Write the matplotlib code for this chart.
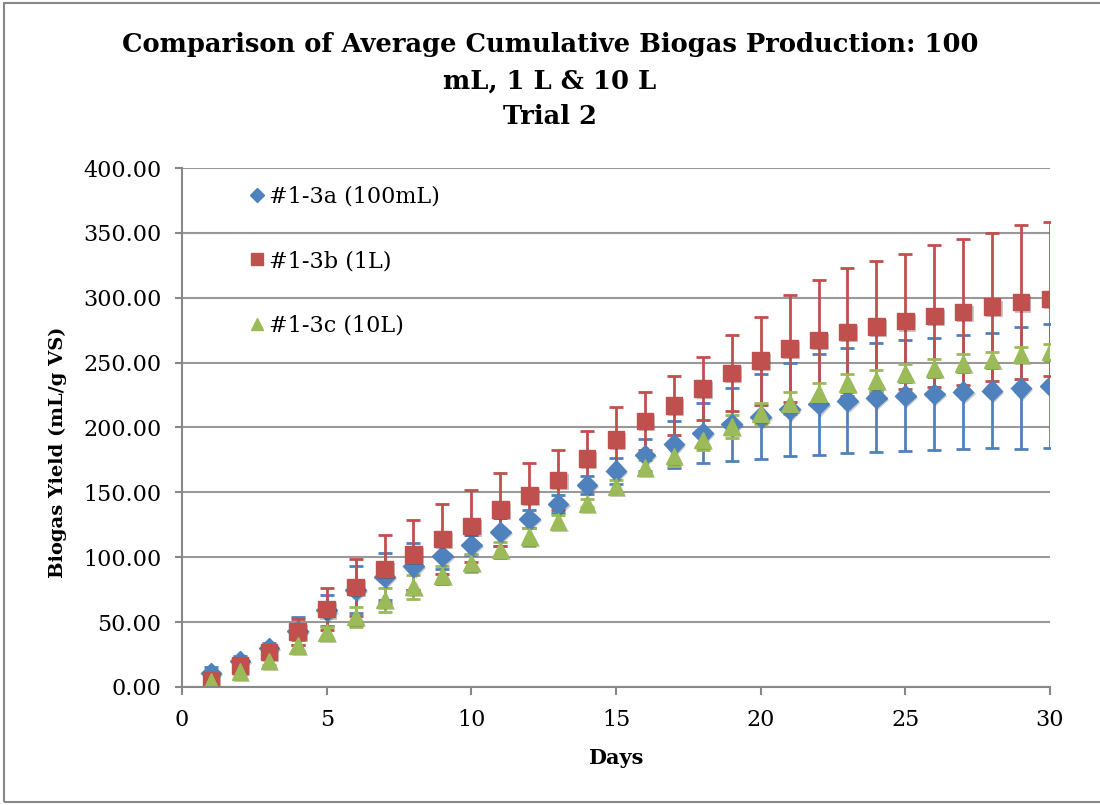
import matplotlib.pyplot as plt
import matplotlib.patheffects as pe
from matplotlib.patches import Rectangle
from matplotlib.lines import Line2D

# --- données ---
days = list(range(1, 31))

yield_a = [10.5, 20, 30, 43, 59, 75, 85, 93, 101, 109.4,
           119.5, 129.5, 141, 155.7, 166.7, 178.8, 187, 195.5, 202.4, 208.4,
           214, 218, 220.7, 223, 224.5, 225.8, 227.6, 228.4, 230.2, 232]
err_a = [5, 4, 4, 11, 12, 18, 18, 18, 10, 8,
         11, 7, 7, 7, 10, 12, 18, 23, 28, 33,
         36, 39, 40.5, 42, 43, 43, 44, 44.5, 47, 48]

yield_b = [5.5, 16.5, 27, 42.6, 60, 77, 91, 102, 114, 124,
           137, 147.5, 159.5, 176, 191, 205, 217, 230, 242, 251.5,
           261, 267.4, 273.6, 277.7, 282, 286, 289, 293, 296.6, 299]
err_b = [3, 3, 3, 10, 16, 22, 26, 27, 27, 28,
         28, 25, 23, 21, 25, 22, 23, 24.5, 29, 34,
         41, 46, 49, 50.5, 52, 54.5, 56, 57, 59.5, 59.5]

yield_c = [4, 12, 20, 32, 42, 54, 67, 77, 86, 95.5,
           105.6, 115.8, 127.4, 141.6, 154.4, 169.3, 178, 190.4, 200.6, 211,
           218.6, 226.3, 234, 236, 241.7, 245.6, 249.4, 252, 256.3, 258.4]
err_c = [2, 2, 3, 4, 4, 8, 9, 9, 7, 7,
         6, 7, 5, 3, 5, 6, 8, 8, 9, 8,
         8.5, 8, 7, 8, 7, 7, 7, 6.5, 6, 6]

labels = ["#1-3a (100mL)", "#1-3b (1L)", "#1-3c (10L)"]
y_ticks = [0, 50, 100, 150, 200, 250, 300, 350, 400]

plt.rcParams['font.family'] = ['DejaVu Serif']

fig = plt.figure(figsize=(11, 8.05), dpi=100)
ax = fig.add_axes([0.1655, 0.1466, 0.789, 0.6447])

# cadre gris autour du graphique
fig.patches.append(Rectangle((0.004, 0.004), 1.2, 0.992, transform=fig.transFigure,
                             fill=False, edgecolor='#888888', linewidth=1.5))

shadow = [pe.SimplePatchShadow(offset=(1.5, -1.5), alpha=0.25), pe.Normal()]
series = [
    (yield_a, err_a, 'D', '#4F81BD', 10.5),
    (yield_b, err_b, 's', '#C0504D', 12),
    (yield_c, err_c, '^', '#9BBB59', 12),
]
handles = []
for (vals, errs, mk, col, ms), lbl in zip(series, labels):
    line, caps, bars = ax.errorbar(days, vals, yerr=errs, fmt=mk, color=col, ecolor=col,
                                   ms=ms, mec=col, elinewidth=2, capsize=5, capthick=2)
    line.set_path_effects(shadow)
    handles.append(Line2D([], [], ls='none', marker=mk, color=col, ms=ms * 0.7, label=lbl))

ax.set_xlim(0, 30)
ax.set_ylim(0, 400)
ax.set_xticks(range(0, 31, 5))
ax.set_yticks(y_ticks)
ax.set_yticklabels([f"{v:.2f}" for v in y_ticks])
ax.tick_params(axis='both', labelsize=16, color='#888888', length=6, width=1.5)
ax.tick_params(axis='x', pad=10)
ax.tick_params(axis='y', length=5, pad=10)

ax.grid(True, axis='y', color='#999999', linewidth=1.5)
ax.set_axisbelow(True)
for s in ['top', 'right']:
    ax.spines[s].set_visible(False)
for s in ['left', 'bottom']:
    ax.spines[s].set_color('#888888')
    ax.spines[s].set_linewidth(1.5)

ax.set_xlabel('Days', fontsize=15, fontweight='bold', labelpad=12)
ax.set_ylabel('Biogas Yield (mL/g VS)', fontsize=14, fontweight='bold')
ax.yaxis.set_label_coords(-0.132, 0.453)

fig.text(0.5, 0.96, 'Comparison of Average Cumulative Biogas Production: 100\nmL, 1 L & 10 L\nTrial 2',
         ha='center', va='top', fontsize=18.5, fontweight='bold', linespacing=1.55)

ax.legend(handles=handles, loc='upper left', bbox_to_anchor=(0.05, 1.004),
          frameon=False, fontsize=16, labelspacing=1.9, handletextpad=0.05,
          handlelength=1.0)

fig.savefig('out.png', dpi=100)
